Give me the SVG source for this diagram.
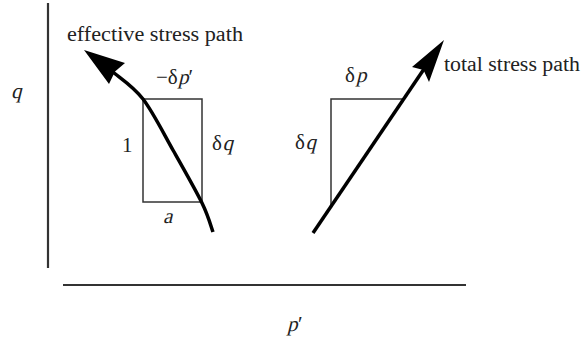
<svg xmlns="http://www.w3.org/2000/svg" width="586" height="350" viewBox="0 0 586 350">
  <style>
    .axis { stroke: #333; stroke-width: 2.2; fill: none; }
    .thin { stroke: #333; stroke-width: 1.5; fill: none; }
    .path { stroke: #000; stroke-width: 3.5; fill: none; stroke-linecap: butt; }
    .head { fill: #000; stroke: none; }
    text { font-family: "Liberation Serif", "Times New Roman", serif; fill: #222; }
    .lbl { font-size: 20px; }
    .m { font-size: 21px; }
  </style>
  <rect width="586" height="350" fill="#ffffff"/>
  <g id="axes">
    <line class="axis" x1="48" y1="3" x2="48" y2="268"/>
    <line class="axis" x1="63" y1="285" x2="466" y2="285"/>
    <g transform="translate(11,98) skewX(-14)"><text class="m" x="0" y="0" font-size="22">q</text></g>
    <g transform="translate(287,331) skewX(-14)"><text class="m" x="0" y="0">p</text></g>
    <text class="m" x="298" y="331">′</text>
  </g>
  <g id="effective-box">
    <rect class="thin" x="143" y="99" width="59" height="103"/>
    <text class="m" x="156" y="84">−δ</text>
    <g transform="translate(178,84) skewX(-14)"><text class="m" x="0" y="0">p</text></g>
    <text class="m" x="188.5" y="84">′</text>
    <text class="m" x="122" y="152">1</text>
    <text class="m" x="212" y="150">δ</text>
    <g transform="translate(222.5,150) skewX(-14)"><text class="m" x="0" y="0">q</text></g>
    <g transform="translate(163,223) skewX(-14)"><text class="m" x="0" y="0">a</text></g>
  </g>
  <g id="total-triangle">
    <polyline class="thin" points="331,205 331,99 404,99"/>
    <text class="m" x="345" y="82">δ</text>
    <g transform="translate(356,82) skewX(-14)"><text class="m" x="0" y="0">p</text></g>
    <text class="m" x="295" y="149">δ</text>
    <g transform="translate(305.5,149) skewX(-14)"><text class="m" x="0" y="0">q</text></g>
  </g>
  <g id="connectors">
    <path class="path" d="M213,232 C211.2,227.2 208.6,216.5 202,203 C195.4,189.5 183.3,168.3 173.5,151 C163.7,133.7 153.1,112.2 143,99 C132.9,85.8 118,76.5 113,72"/>
    <path class="head" d="M84,50 L125,63 L115,71.5 L109,84 Z"/>
    <line class="path" x1="313" y1="233" x2="424" y2="69"/>
    <path class="head" d="M444,40 L429,82 L423.5,70 L412,67 Z"/>
  </g>
  <g id="labels">
    <text class="lbl" x="67" y="40.5" textLength="176" lengthAdjust="spacingAndGlyphs">effective stress path</text>
    <text class="lbl" x="444" y="71" textLength="136" lengthAdjust="spacingAndGlyphs">total stress path</text>
  </g>
</svg>
